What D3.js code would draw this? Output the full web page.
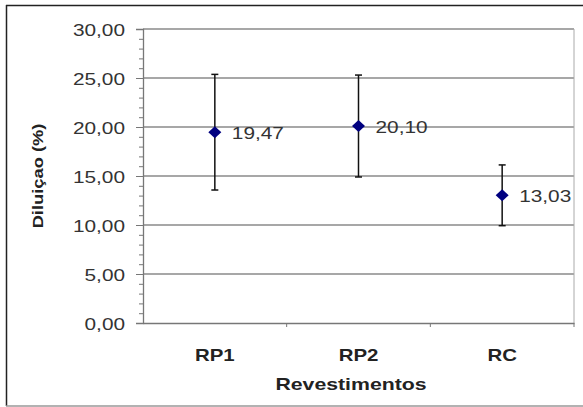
<!DOCTYPE html>
<html>
<head>
<meta charset="utf-8">
<script src="https://cdn.jsdelivr.net/npm/d3@7"></script>
<style>
  body { margin: 0; background: #fff; }
  svg { display: block; font-family: "Liberation Sans", Arial, sans-serif; }
</style>
</head>
<body>
<svg id="chart" width="583" height="407"></svg>
<script>
// data
const categories = ["RP1", "RP2", "RC"];
const means = [19.47, 20.10, 13.03];
const errors = [5.9, 5.2, 3.1];
const yTicks = [0, 5, 10, 15, 20, 25, 30];
const yMinorTicks = d3.range(0, 31, 1);

const width = 583, height = 407;
const margin = { top: 29, right: 9, bottom: 84, left: 143 };
const innerWidth = width - margin.left - margin.right;
const innerHeight = height - margin.top - margin.bottom;

const fmt = v => d3.format(".2f")(v).replace(".", ",");

// the original text looks horizontally stretched
function stretch(sel, k) {
  sel.each(function () {
    const len = this.getComputedTextLength();
    d3.select(this).attr("textLength", len * k).attr("lengthAdjust", "spacingAndGlyphs");
  });
}

const svg = d3.select("#chart");

// outer frame
svg.append("line").attr("x1", 6).attr("x2", width).attr("y1", 5.5).attr("y2", 5.5)
  .attr("stroke", "#222").attr("stroke-width", 1.5);
svg.append("line").attr("x1", 6.5).attr("x2", 6.5).attr("y1", 5).attr("y2", 406)
  .attr("stroke", "#222").attr("stroke-width", 1.5);
svg.append("line").attr("x1", 6).attr("x2", width).attr("y1", 406).attr("y2", 406)
  .attr("stroke", "#999").attr("stroke-width", 1.5);

const g = svg.append("g").attr("transform", `translate(${margin.left},${margin.top})`);

const x = d3.scaleBand().domain(categories).range([0, innerWidth]);
const y = d3.scaleLinear().domain([0, 30]).range([innerHeight, 0]);

// grid lines
g.append("g").selectAll("line").data(yTicks.filter(d => d > 0)).join("line")
  .attr("x1", 0).attr("x2", innerWidth)
  .attr("y1", d => y(d)).attr("y2", d => y(d))
  .attr("stroke", "#8a8a8a").attr("stroke-width", 1.3);

// right border of the plot area
g.append("line").attr("x1", innerWidth).attr("x2", innerWidth).attr("y1", 0).attr("y2", innerHeight)
  .attr("stroke", "#aaa").attr("stroke-width", 1);

// minor y ticks
const yMinor = g.append("g").call(d3.axisLeft(y).tickValues(yMinorTicks).tickSize(4).tickFormat(""));
yMinor.selectAll(".domain, text").remove();
yMinor.selectAll(".tick line").attr("stroke", "#777");

// y axis
const yAxis = g.append("g").call(d3.axisLeft(y).tickValues(yTicks).tickSize(7).tickPadding(11)
  .tickFormat(fmt));
yAxis.select(".domain").attr("stroke", "#777").attr("stroke-width", 1.3);
yAxis.selectAll(".tick line").attr("stroke", "#777");
yAxis.selectAll(".tick text").attr("font-size", 16).attr("fill", "#333").attr("dy", "0.38em")
  .call(stretch, 1.3);

// x axis
const xAxis = g.append("g").attr("transform", `translate(0,${innerHeight})`)
  .call(d3.axisBottom(x).tickSize(0).tickPadding(26));
xAxis.select(".domain").attr("stroke", "#777").attr("stroke-width", 1.3);
xAxis.selectAll(".tick text").attr("font-size", 17).attr("font-weight", "bold").attr("fill", "#222")
  .call(stretch, 1.2);
// ticks at band edges
g.append("g").selectAll("line").data(categories).join("line")
  .attr("x1", d => x(d) + x.bandwidth()).attr("x2", d => x(d) + x.bandwidth())
  .attr("y1", innerHeight).attr("y2", innerHeight + 4)
  .attr("stroke", "#777");

// error bars
const cx = d => x(d) + x.bandwidth() / 2;
const bars = g.append("g").selectAll("g").data(categories).join("g");
bars.append("line")
  .attr("x1", cx).attr("x2", cx)
  .attr("y1", (d, i) => y(means[i] + errors[i]))
  .attr("y2", (d, i) => y(means[i] - errors[i]))
  .attr("stroke", "#111").attr("stroke-width", 1.5);
[1, -1].forEach(s => {
  bars.append("line")
    .attr("x1", d => cx(d) - 3.5).attr("x2", d => cx(d) + 3.5)
    .attr("y1", (d, i) => y(means[i] + s * errors[i]))
    .attr("y2", (d, i) => y(means[i] + s * errors[i]))
    .attr("stroke", "#111").attr("stroke-width", 1.5);
});

// diamond markers
bars.append("path")
  .attr("d", "M0,-6L6.5,0L0,6L-6.5,0Z")
  .attr("transform", (d, i) => `translate(${cx(d)},${y(means[i])})`)
  .attr("fill", "#000080");

// value labels
bars.append("text")
  .attr("x", d => cx(d) + 17)
  .attr("y", (d, i) => y(means[i]) + 1)
  .attr("dy", "0.38em")
  .attr("font-size", 16).attr("fill", "#333")
  .text((d, i) => fmt(means[i]))
  .call(stretch, 1.3);

// axis titles
svg.append("text")
  .attr("x", 351).attr("y", 390)
  .attr("text-anchor", "middle")
  .attr("font-size", 17).attr("font-weight", "bold").attr("fill", "#222")
  .text("Revestimentos")
  .call(stretch, 1.25);

svg.append("text")
  .attr("transform", `translate(43,${margin.top + innerHeight / 2}) rotate(-90)`)
  .attr("text-anchor", "middle")
  .attr("font-size", 15).attr("font-weight", "bold").attr("fill", "#222")
  .text("Diluiçao (%)")
  .call(stretch, 1.22);
</script>
</body>
</html>
